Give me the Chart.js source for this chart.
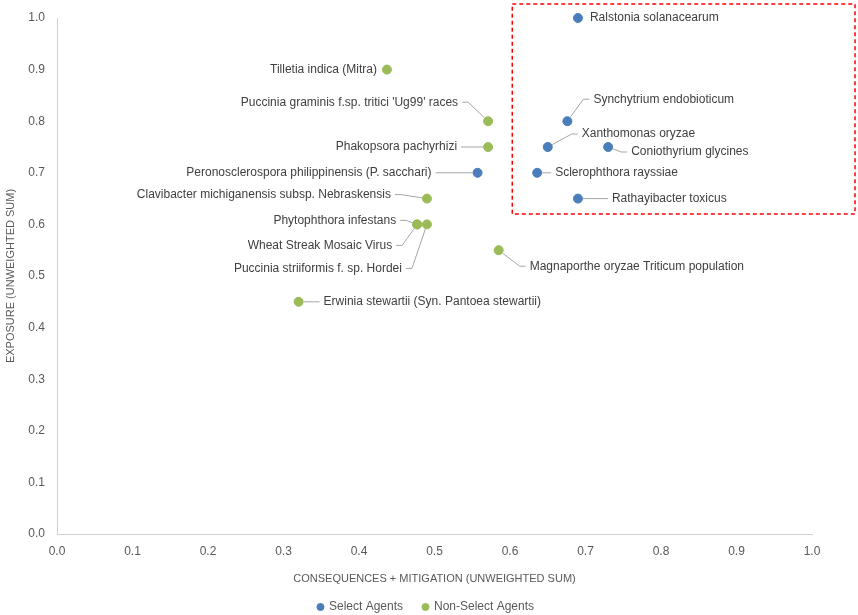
<!DOCTYPE html>
<html>
<head>
<meta charset="utf-8">
<script src="https://cdn.jsdelivr.net/npm/chart.js@4.4.1/dist/chart.umd.min.js"></script>
<style>
  html, body { margin: 0; padding: 0; background: #fff; }
  #wrap { width: 858px; height: 615px; }
</style>
</head>
<body>
<div id="wrap"><canvas id="riskChart"></canvas></div>
<script>
// Select agents
const selectNames = ['Ralstonia solanacearum', 'Synchytrium endobioticum', 'Xanthomonas oryzae', 'Coniothyrium glycines',
    'Sclerophthora rayssiae', 'Rathayibacter toxicus', 'Peronosclerospora philippinensis (P. sacchari)'];
const selectX = [0.69, 0.676, 0.65, 0.73, 0.636, 0.69, 0.557];
const selectY = [1.0, 0.80, 0.75, 0.75, 0.70, 0.65, 0.70];

// Non-select agents
const nonSelectNames = ['Tilletia indica (Mitra)', "Puccinia graminis f.sp. tritici 'Ug99' races", 'Phakopsora pachyrhizi',
    'Clavibacter michiganensis subsp. Nebraskensis', 'Phytophthora infestans', 'Wheat Streak Mosaic Virus',
    'Puccinia striiformis f. sp. Hordei', 'Magnaporthe oryzae Triticum population', 'Erwinia stewartii (Syn. Pantoea stewartii)'];
const nonSelectX = [0.437, 0.571, 0.571, 0.49, 0.477, 0.477, 0.49, 0.585, 0.32];
const nonSelectY = [0.90, 0.80, 0.75, 0.65, 0.60, 0.60, 0.60, 0.55, 0.45];

const axisTicks = ['0.0', '0.1', '0.2', '0.3', '0.4', '0.5', '0.6', '0.7', '0.8', '0.9', '1.0'];

// where each label sits relative to its point (px), and whether it gets a leader line
const labelPlace = {
    'Ralstonia solanacearum': [12, 0, 'left', false],
    'Synchytrium endobioticum': [26, -22, 'left', true],
    'Xanthomonas oryzae': [34, -13, 'left', true],
    'Coniothyrium glycines': [23, 5, 'left', true],
    'Sclerophthora rayssiae': [18, 0, 'left', true],
    'Rathayibacter toxicus': [34, 0, 'left', true],
    'Peronosclerospora philippinensis (P. sacchari)': [-46, 0, 'right', true],
    'Tilletia indica (Mitra)': [-10, 0, 'right', false],
    "Puccinia graminis f.sp. tritici 'Ug99' races": [-30, -19, 'right', true],
    'Phakopsora pachyrhizi': [-31, 0, 'right', true],
    'Clavibacter michiganensis subsp. Nebraskensis': [-36, -4, 'right', true],
    'Phytophthora infestans': [-21, -4, 'right', true],
    'Wheat Streak Mosaic Virus': [-25, 21, 'right', true],
    'Puccinia striiformis f. sp. Hordei': [-25, 44, 'right', true],
    'Magnaporthe oryzae Triticum population': [31, 16, 'left', true],
    'Erwinia stewartii (Syn. Pantoea stewartii)': [25, 0, 'left', true]
};

const FONT = '"Liberation Sans", Arial, sans-serif';
const GREY = '#595959';

function toPoints(xs, ys, names) {
    return xs.map((x, i) => ({ x: x, y: ys[i], name: names[i] }));
}

const pointLabels = {
    id: 'pointLabels',
    afterDatasetsDraw(chart) {
        const ctx = chart.ctx;
        ctx.save();
        ctx.font = '12px ' + FONT;
        ctx.textBaseline = 'middle';
        chart.data.datasets.forEach((ds, di) => {
            const meta = chart.getDatasetMeta(di);
            meta.data.forEach((el, i) => {
                const p = labelPlace[ds.data[i].name];
                if (!p) return;
                const tx = el.x + p[0], ty = el.y + p[1];
                if (p[3]) {
                    // leader: short horizontal stub next to the text, then straight to the point
                    const dir = p[2] === 'left' ? -1 : 1;
                    const sx = tx + dir * 4;
                    const ex = sx + dir * 6;
                    let ang = Math.atan2(el.y - ty, el.x - ex);
                    ctx.strokeStyle = '#a6a6a6';
                    ctx.lineWidth = 1;
                    ctx.beginPath();
                    ctx.moveTo(sx, ty);
                    ctx.lineTo(ex, ty);
                    ctx.lineTo(el.x - Math.cos(ang) * 5, el.y - Math.sin(ang) * 5);
                    ctx.stroke();
                }
                ctx.fillStyle = '#404040';
                ctx.textAlign = p[2];
                ctx.fillText(ds.data[i].name, tx, ty);
            });
        });
        ctx.restore();
    }
};

const regionBox = {
    id: 'regionBox',
    afterDraw(chart) {
        const xs = chart.scales.x, ys = chart.scales.y;
        const ctx = chart.ctx;
        const l = xs.getPixelForValue(0.603), r = xs.getPixelForValue(1.057);
        const t = ys.getPixelForValue(1.027), b = ys.getPixelForValue(0.62);
        ctx.save();
        ctx.strokeStyle = '#ff0000';
        ctx.lineWidth = 1.5;
        ctx.setLineDash([4, 3]);
        ctx.strokeRect(l, t, r - l, b - t);
        ctx.restore();
    }
};

new Chart(document.getElementById('riskChart'), {
    type: 'scatter',
    data: {
        datasets: [{
            label: 'Select Agents',
            data: toPoints(selectX, selectY, selectNames),
            backgroundColor: '#4a7ebb',
            borderColor: '#4a7ebb',
            pointRadius: 4.5,
            pointHoverRadius: 4.5,
            clip: false
        }, {
            label: 'Non-Select Agents',
            data: toPoints(nonSelectX, nonSelectY, nonSelectNames),
            backgroundColor: '#9bbb59',
            borderColor: '#9bbb59',
            pointRadius: 4.5,
            pointHoverRadius: 4.5,
            clip: false
        }]
    },
    options: {
        responsive: true,
        maintainAspectRatio: false,
        animation: false,
        layout: { padding: { top: 4, right: 6, left: 0, bottom: -8 } },
        plugins: {
            tooltip: { enabled: false },
            legend: {
                position: 'bottom',
                labels: {
                    usePointStyle: true,
                    pointStyle: 'circle',
                    boxWidth: 5,
                    boxHeight: 5,
                    padding: 10,
                    color: GREY,
                    font: { family: FONT, size: 12 },
                    generateLabels(chart) {
                        const items = Chart.defaults.plugins.legend.labels.generateLabels(chart);
                        items[0].text += '   '; // a bit more room between the two entries
                        return items;
                    }
                }
            }
        },
        scales: {
            x: {
                min: 0,
                max: 1,
                grid: { display: false, drawTicks: false },
                border: { display: true, color: '#d0d0d0' },
                ticks: {
                    stepSize: 0.1,
                    padding: 10,
                    color: GREY,
                    font: { family: FONT, size: 12 },
                    callback: (v, i) => axisTicks[i]
                },
                title: {
                    display: true,
                    text: 'CONSEQUENCES + MITIGATION (UNWEIGHTED SUM)',
                    color: GREY,
                    font: { family: FONT, size: 11 },
                    padding: { top: 8, bottom: 5 }
                },
                afterFit(scale) { scale.height = 57; }
            },
            y: {
                min: 0,
                max: 1,
                grid: { display: false, drawTicks: false },
                border: { display: true, color: '#d0d0d0' },
                ticks: {
                    stepSize: 0.1,
                    padding: 12,
                    color: GREY,
                    font: { family: FONT, size: 12, lineHeight: 1 },
                    callback: (v, i) => axisTicks[i]
                },
                title: {
                    display: true,
                    text: 'EXPOSURE (UNWEIGHTED SUM)',
                    color: GREY,
                    font: { family: FONT, size: 11 },
                    padding: { top: 4, bottom: 6 }
                },
                afterFit(scale) { scale.width = 57; }
            },
            // empty spacer on the right so the plot stops short of the edge
            yRight: {
                position: 'right',
                display: true,
                grid: { display: false },
                border: { display: false },
                ticks: { display: false },
                afterFit(scale) { scale.width = 40; }
            }
        }
    },
    plugins: [pointLabels, regionBox]
});
</script>
</body>
</html>
